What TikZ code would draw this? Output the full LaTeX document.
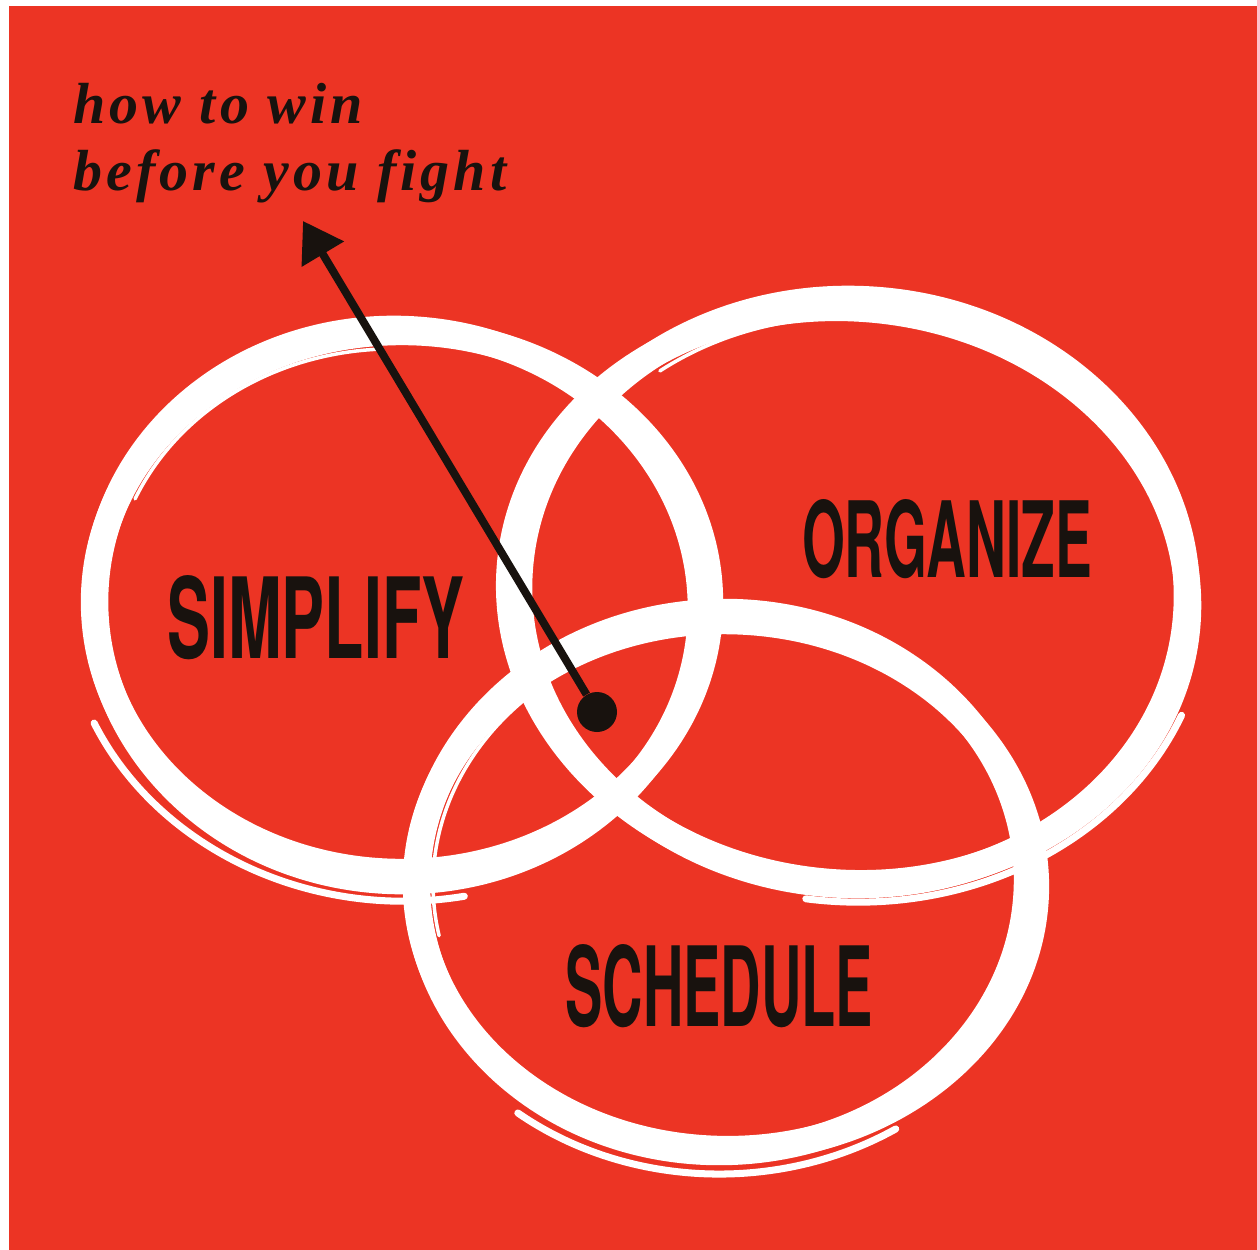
\documentclass[tikz,border=0pt]{standalone}
\usepackage{fontspec}
\usepackage{graphicx}
\usetikzlibrary{arrows.meta}
\newfontfamily\wordfont{TeX Gyre Heros}
\newfontfamily\mottofont{Liberation Serif}[LetterSpace=7]
\definecolor{bgred}{RGB}{236,52,36}
\definecolor{ink}{RGB}{24,18,14}
\tikzset{
  ring/.style={draw=white, line width=15pt},
  brush/.style={draw=white, line width=4pt, line cap=round},
  word/.style={text=ink, inner sep=0pt},
  motto/.style={text=ink, inner sep=0pt, align=left,
    font=\mottofont\bfseries\itshape\fontsize{33pt}{38pt}\selectfont},
  pointer/.style={draw=ink, line width=4.5pt, -{Triangle[length=22pt,width=27pt]}},
}
\newcommand{\bigword}[3]{\resizebox{#1}{#2}{\wordfont\bfseries #3}}
\begin{document}
\begin{tikzpicture}[x=0.02cm, y=-0.02cm]
    \useasboundingbox (0,0) rectangle (1257,1250);
    \fill[bgred] (9,6) rectangle (1257,1250);

    % simplify ring
    \begin{scope}[shift={(398,605)}, rotate=-4]
        \draw[ring] (0,0) ellipse [x radius=303, y radius=276];
        \draw[ring, rotate=4] (4,-3) ellipse [x radius=308, y radius=270];
        \draw[brush] (152:334 and 296) arc [start angle=152, end angle=75, x radius=334, y radius=296];
        \draw[brush, line width=2pt] (200:287 and 256) arc [start angle=200, end angle=262, x radius=287, y radius=256];
    \end{scope}
    % organize ring
    \begin{scope}[shift={(853,592)}, rotate=-3]
        \draw[ring] (0,0) ellipse [x radius=334, y radius=293];
        \draw[ring, rotate=-3] (-4,4) ellipse [x radius=340, y radius=287];
        \draw[brush] (20:356 and 310) arc [start angle=20, end angle=95, x radius=356, y radius=310];
        \draw[brush, line width=2pt] (230:318 and 275) arc [start angle=230, end angle=300, x radius=318, y radius=275];
    \end{scope}
    % schedule ring
    \begin{scope}[shift={(722,882)}, rotate=2]
        \draw[ring] (0,0) ellipse [x radius=305, y radius=270];
        \draw[ring, rotate=-3] (4,3) ellipse [x radius=310, y radius=264];
        \draw[brush] (130:330 and 292) arc [start angle=130, end angle=60, x radius=330, y radius=292];
        \draw[brush, line width=2pt] (170:289 and 252) arc [start angle=170, end angle=232, x radius=289, y radius=252];
    \end{scope}

    \node[word] (simplify) at (316,618) {\bigword{5.94cm}{1.66cm}{SIMPLIFY}};
    \node[word] (organize) at (947,539) {\bigword{5.8cm}{1.56cm}{ORGANIZE}};
    \node[word] (schedule) at (719,986) {\bigword{6.16cm}{1.64cm}{SCHEDULE}};

    \node[motto, anchor=north west] (title) at (73,83) {how to win\\before you fight};

    \node[circle, fill=ink, minimum size=0.8cm, inner sep=0pt] (dot) at (597,712) {};
    \coordinate (tip) at (303,221);
    \draw[pointer] (dot) -- (tip);
\end{tikzpicture}
\end{document}
